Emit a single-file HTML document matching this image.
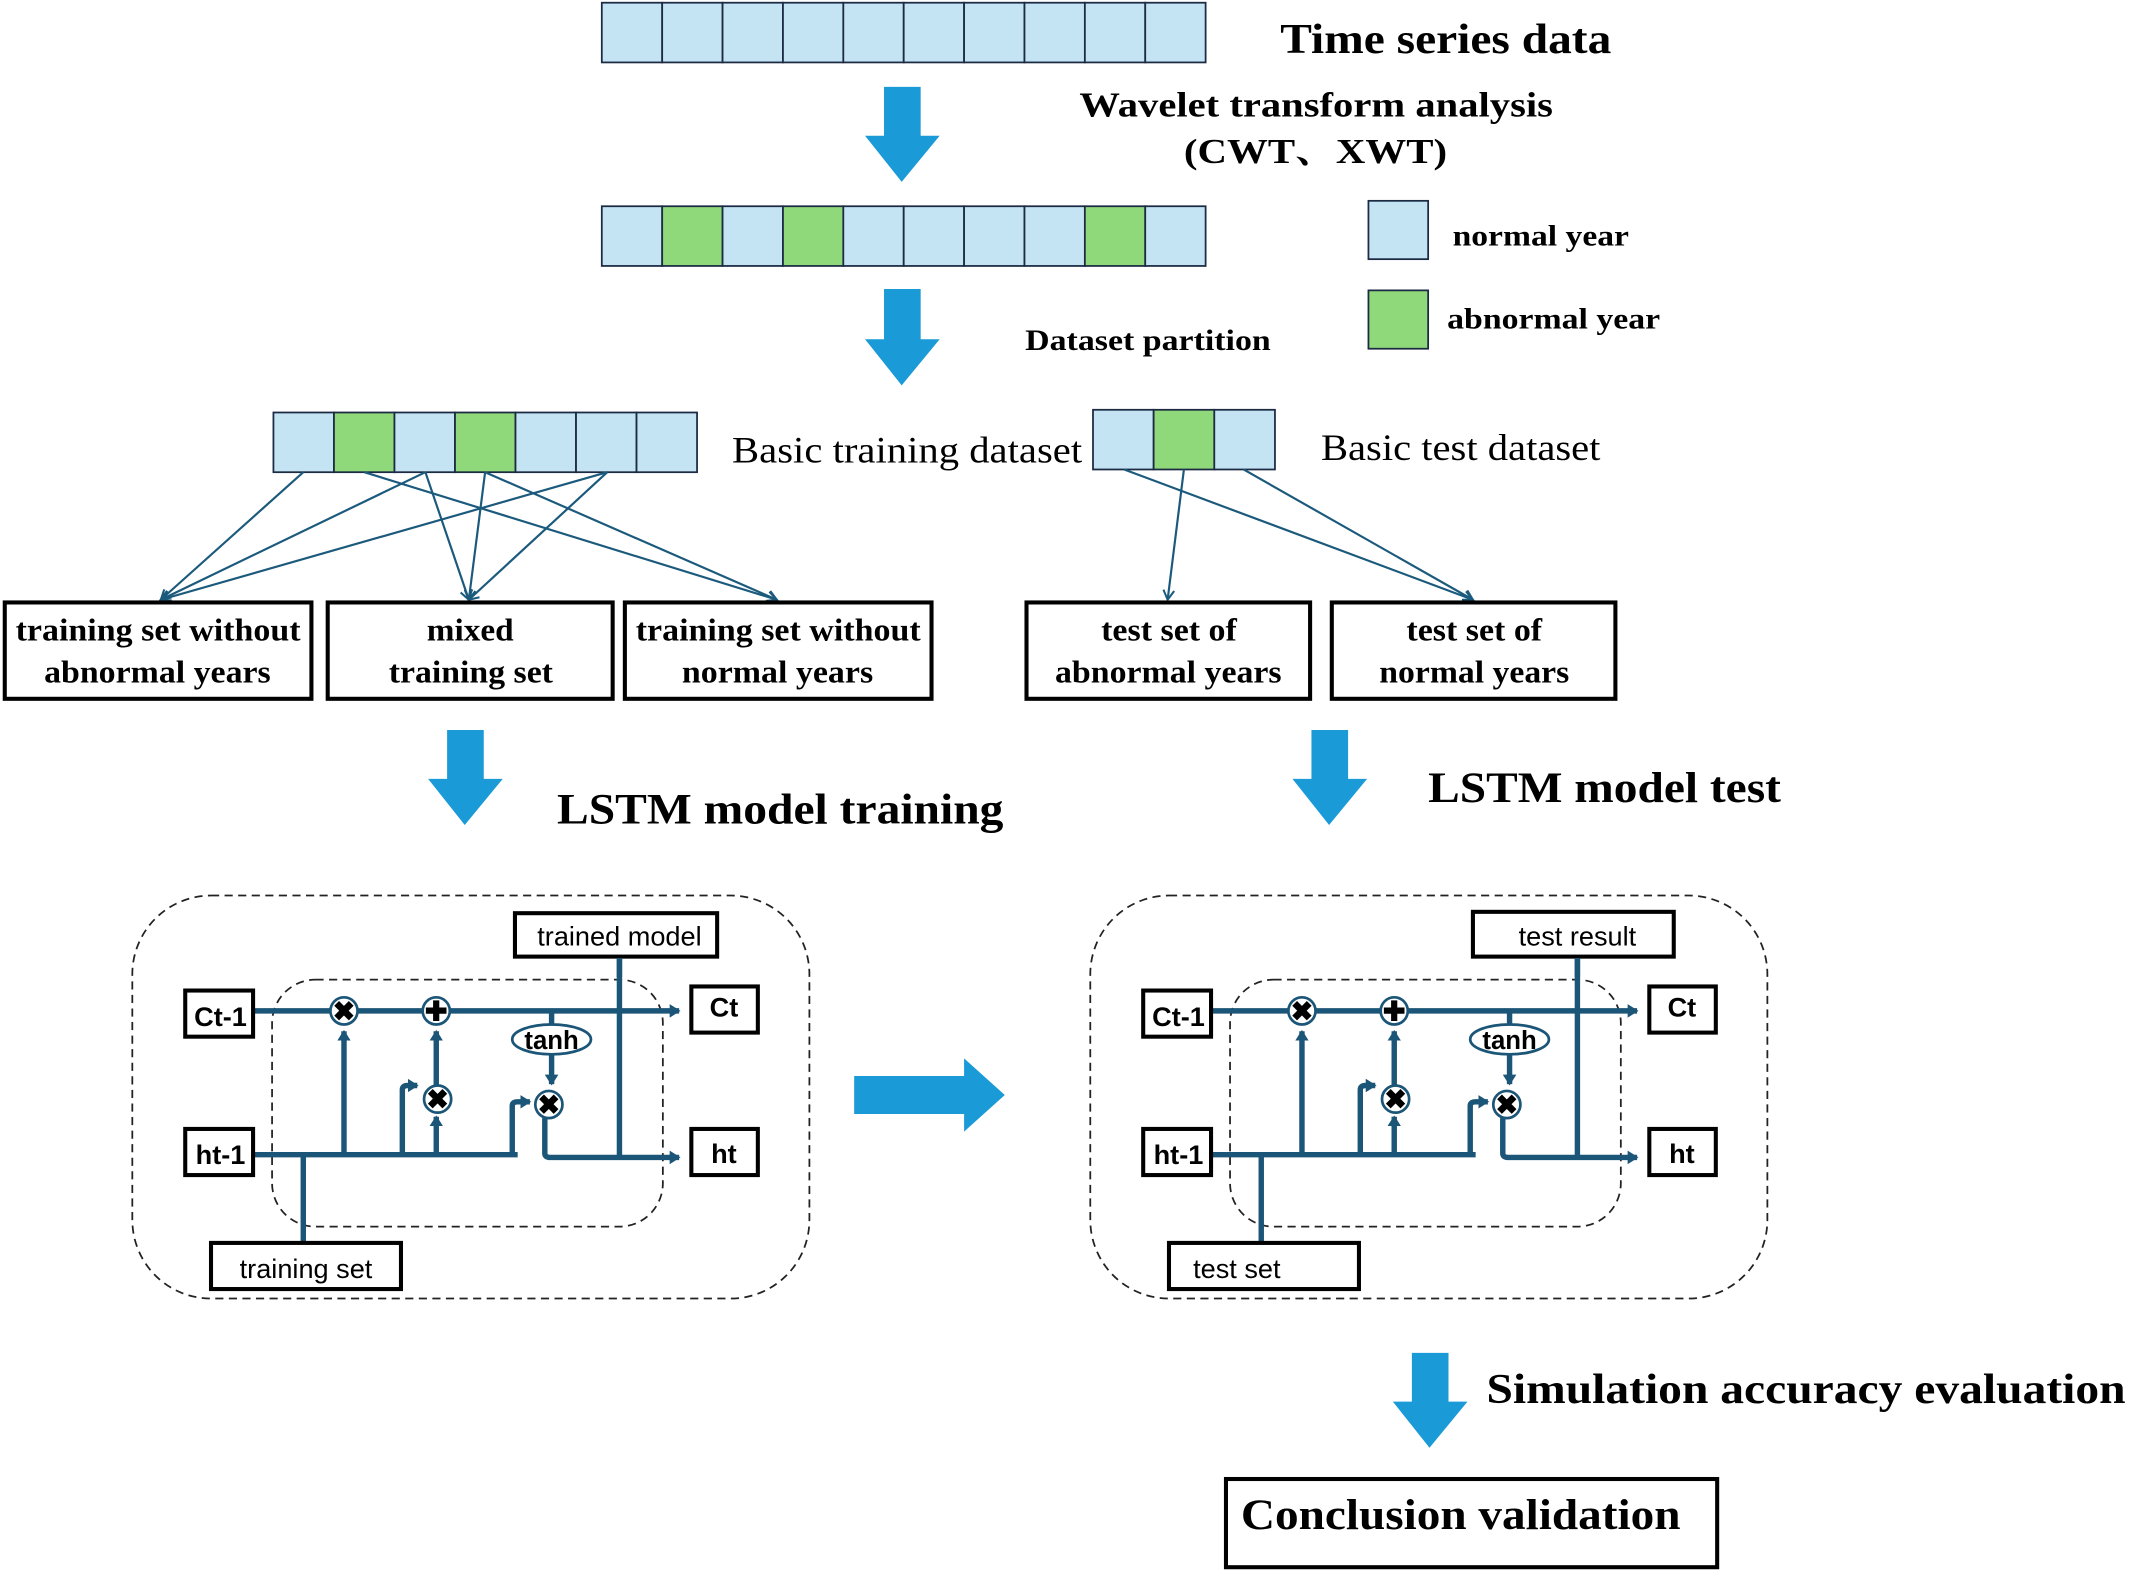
<!DOCTYPE html>
<html><head><style>html,body{margin:0;padding:0;background:#fff}svg{display:block}</style></head>
<body>
<svg width="2129" height="1574" viewBox="0 0 1568 1160" xmlns="http://www.w3.org/2000/svg">
<defs>
<marker id="a" markerWidth="10" markerHeight="10" refX="8" refY="5" orient="auto" markerUnits="userSpaceOnUse"><path d="M1,1 L8,5 L1,9" fill="none" stroke="#1b5a7c" stroke-width="1.5"/></marker>
<marker id="b" markerWidth="10" markerHeight="10" refX="7" refY="5" orient="auto" markerUnits="userSpaceOnUse"><path d="M0,0 L8,5 L0,10 Z" fill="#1b5577"/></marker>
<g id="lstm">
<rect x="97" y="660" width="499" height="297" rx="58" fill="none" stroke="#222" stroke-width="1.3" stroke-dasharray="6,4"/>
<rect x="200" y="722" width="288" height="182" rx="32" fill="none" stroke="#222" stroke-width="1.3" stroke-dasharray="6,4"/>
<g stroke="#1b5577" stroke-width="4" fill="none">
<line x1="186" y1="745" x2="500" y2="745" marker-end="url(#b)"/>
<line x1="186" y1="851" x2="381" y2="851"/>
<line x1="253" y1="851" x2="253" y2="760" marker-end="url(#b)"/>
<line x1="321" y1="851" x2="321" y2="823" marker-end="url(#b)"/>
<line x1="321" y1="800" x2="321" y2="760" marker-end="url(#b)"/>
<path d="M296,851 V803 Q296,800 300,800 H307" marker-end="url(#b)"/>
<path d="M377,851 V815 Q377,812 381,812 H390" marker-end="url(#b)"/>
<line x1="406" y1="745" x2="406" y2="756"/>
<line x1="406" y1="777" x2="406" y2="799" marker-end="url(#b)"/>
<path d="M401,824 V850 Q401,853 405,853 H500" marker-end="url(#b)"/>
<line x1="456" y1="853" x2="456" y2="706"/>
<line x1="223" y1="851" x2="223" y2="916"/>
</g>
<g stroke="#1b5577" stroke-width="2" fill="#fff">
<circle cx="253" cy="745" r="10"/><circle cx="321" cy="745" r="10"/>
<circle cx="322" cy="810" r="10"/><circle cx="404" cy="814" r="10"/>
<ellipse cx="406" cy="766" rx="29" ry="11"/>
</g>
<g font-family="Liberation Sans, sans-serif" font-weight="bold" text-anchor="middle">
<text x="253" y="752" font-size="20">✖</text><text x="321" y="752" font-size="20">✚</text>
<text x="322" y="817" font-size="20">✖</text><text x="404" y="821" font-size="20">✖</text>
<text x="406" y="773" font-size="19">tanh</text>
</g>
<g fill="#fff" stroke="#000" stroke-width="3">
<rect x="136" y="730" width="50" height="34"/><rect x="136" y="832" width="50" height="34"/>
<rect x="509" y="727" width="49" height="34"/><rect x="509" y="832" width="49" height="34"/>
</g>
<g font-family="Liberation Sans, sans-serif" font-weight="bold" font-size="20" text-anchor="middle">
<text x="162" y="756">Ct-1</text><text x="162" y="858">ht-1</text>
<text x="533" y="749">Ct</text><text x="533" y="857">ht</text>
</g>
</g>
</defs>
<g fill="#c5e4f3" stroke="#1c2a44" stroke-width="1.3">
<rect x="443" y="2" width="44.5" height="44"/><rect x="487.5" y="2" width="44.5" height="44"/><rect x="532" y="2" width="44.5" height="44"/><rect x="576.5" y="2" width="44.5" height="44"/><rect x="621" y="2" width="44.5" height="44"/><rect x="665.5" y="2" width="44.5" height="44"/><rect x="710" y="2" width="44.5" height="44"/><rect x="754.5" y="2" width="44.5" height="44"/><rect x="799" y="2" width="44.5" height="44"/><rect x="843.5" y="2" width="44.5" height="44"/>
<rect x="443" y="152" width="44.5" height="44"/><rect x="487.5" y="152" width="44.5" height="44" fill="#8fd97a"/><rect x="532" y="152" width="44.5" height="44"/><rect x="576.5" y="152" width="44.5" height="44" fill="#8fd97a"/><rect x="621" y="152" width="44.5" height="44"/><rect x="665.5" y="152" width="44.5" height="44"/><rect x="710" y="152" width="44.5" height="44"/><rect x="754.5" y="152" width="44.5" height="44"/><rect x="799" y="152" width="44.5" height="44" fill="#8fd97a"/><rect x="843.5" y="152" width="44.5" height="44"/>
<rect x="1008" y="148" width="44" height="43"/><rect x="1008" y="214" width="44" height="43" fill="#8fd97a"/>
<rect x="201" y="304" width="44.6" height="44"/><rect x="245.6" y="304" width="44.6" height="44" fill="#8fd97a"/><rect x="290.2" y="304" width="44.6" height="44"/><rect x="334.8" y="304" width="44.6" height="44" fill="#8fd97a"/><rect x="379.4" y="304" width="44.6" height="44"/><rect x="424" y="304" width="44.6" height="44"/><rect x="468.6" y="304" width="44.6" height="44"/>
<rect x="805" y="302" width="44.7" height="44"/><rect x="849.7" y="302" width="44.7" height="44" fill="#8fd97a"/><rect x="894.4" y="302" width="44.7" height="44"/>
</g>
<g fill="#1a9ad6">
<path d="M651,64 H678 V100 H692 L664,134 L637,100 H651 Z"/>
<path d="M651,213 H678 V250 H692 L664,284 L637,250 H651 Z"/>
<path d="M329,538 H356 V574 H370 L342,608 L315,574 H329 Z"/>
<path d="M966,538 H993 V574 H1007 L979,608 L952,574 H966 Z"/>
<path d="M1040,997 H1067 V1033 H1081 L1053,1067 L1026,1033 H1040 Z"/>
<path d="M629,793 H710 V780 L740,807 L710,834 V821 H629 Z"/>
</g>
<g stroke="#1b5a7c" stroke-width="1.6" marker-end="url(#a)">
<line x1="223" y1="348" x2="118" y2="442"/><line x1="313" y1="348" x2="118" y2="442"/><line x1="447" y1="348" x2="118" y2="442"/>
<line x1="313" y1="348" x2="345" y2="442"/><line x1="357" y1="348" x2="345" y2="442"/><line x1="447" y1="348" x2="345" y2="442"/>
<line x1="268" y1="348" x2="572" y2="442"/><line x1="357" y1="348" x2="572" y2="442"/>
<line x1="872" y1="346" x2="860" y2="442"/><line x1="828" y1="346" x2="1085" y2="442"/><line x1="916" y1="346" x2="1085" y2="442"/>
</g>
<g fill="#fff" stroke="#000" stroke-width="3">
<rect x="3" y="444" width="226" height="71"/><rect x="241" y="444" width="210" height="71"/><rect x="460" y="444" width="226" height="71"/>
<rect x="756" y="444" width="209" height="71"/><rect x="981" y="444" width="209" height="71"/>
<rect x="903" y="1090" width="362" height="65"/>
</g>
<g font-family="Liberation Serif, serif" font-weight="bold" font-size="23" lengthAdjust="spacingAndGlyphs">
<text x="11" y="472" textLength="210" lengthAdjust="spacingAndGlyphs">training set without</text><text x="32" y="503" textLength="167" lengthAdjust="spacingAndGlyphs">abnormal years</text>
<text x="314" y="472" textLength="64" lengthAdjust="spacingAndGlyphs">mixed</text><text x="286" y="503" textLength="121" lengthAdjust="spacingAndGlyphs">training set</text>
<text x="468" y="472" textLength="210" lengthAdjust="spacingAndGlyphs">training set without</text><text x="502" y="503" textLength="141" lengthAdjust="spacingAndGlyphs">normal years</text>
<text x="811" y="472" textLength="100" lengthAdjust="spacingAndGlyphs">test set of</text><text x="777" y="503" textLength="167" lengthAdjust="spacingAndGlyphs">abnormal years</text>
<text x="1036" y="472" textLength="100" lengthAdjust="spacingAndGlyphs">test set of</text><text x="1016" y="503" textLength="140" lengthAdjust="spacingAndGlyphs">normal years</text>
</g>
<g font-family="Liberation Serif, 'Noto Serif CJK SC', serif" font-weight="bold">
<text x="943" y="39" font-size="31" textLength="244" lengthAdjust="spacingAndGlyphs">Time series data</text>
<text x="795" y="86" font-size="26" textLength="349" lengthAdjust="spacingAndGlyphs">Wavelet transform analysis</text>
<text x="872" y="120" font-size="26" textLength="194" lengthAdjust="spacingAndGlyphs">(CWT、XWT)</text>
<text x="1070" y="181" font-size="22" textLength="130" lengthAdjust="spacingAndGlyphs">normal year</text>
<text x="1066" y="242" font-size="22" textLength="157" lengthAdjust="spacingAndGlyphs">abnormal year</text>
<text x="755" y="258" font-size="22" textLength="181" lengthAdjust="spacingAndGlyphs">Dataset partition</text>
<text x="410" y="607" font-size="32" textLength="329" lengthAdjust="spacingAndGlyphs">LSTM model training</text>
<text x="1052" y="591" font-size="32" textLength="260" lengthAdjust="spacingAndGlyphs">LSTM model test</text>
<text x="1095" y="1034" font-size="31" textLength="471" lengthAdjust="spacingAndGlyphs">Simulation accuracy evaluation</text>
<text x="914" y="1127" font-size="32" textLength="324" lengthAdjust="spacingAndGlyphs">Conclusion validation</text>
</g>
<g font-family="Liberation Serif, serif" font-size="27">
<text x="539" y="341" textLength="258" lengthAdjust="spacingAndGlyphs">Basic training dataset</text>
<text x="973" y="339" textLength="206" lengthAdjust="spacingAndGlyphs">Basic test dataset</text>
</g>
<use href="#lstm"/>
<use href="#lstm" transform="translate(706,0)"/>
<g fill="#fff" stroke="#000" stroke-width="3">
<rect x="379" y="673" width="149" height="32"/><rect x="155" y="916" width="140" height="34"/>
<rect x="1085" y="672" width="148" height="33"/><rect x="861" y="916" width="140" height="34"/>
</g>
<g font-family="Liberation Sans, sans-serif" font-size="20" text-anchor="middle">
<text x="456" y="697">trained model</text><text x="225" y="942">training set</text>
<text x="1162" y="697">test result</text><text x="911" y="942">test set</text>
</g>
<g stroke="#1b5577" stroke-width="4"><line x1="456" y1="706" x2="456" y2="720"/><line x1="1162" y1="706" x2="1162" y2="720"/></g>
</svg>
</body></html>
